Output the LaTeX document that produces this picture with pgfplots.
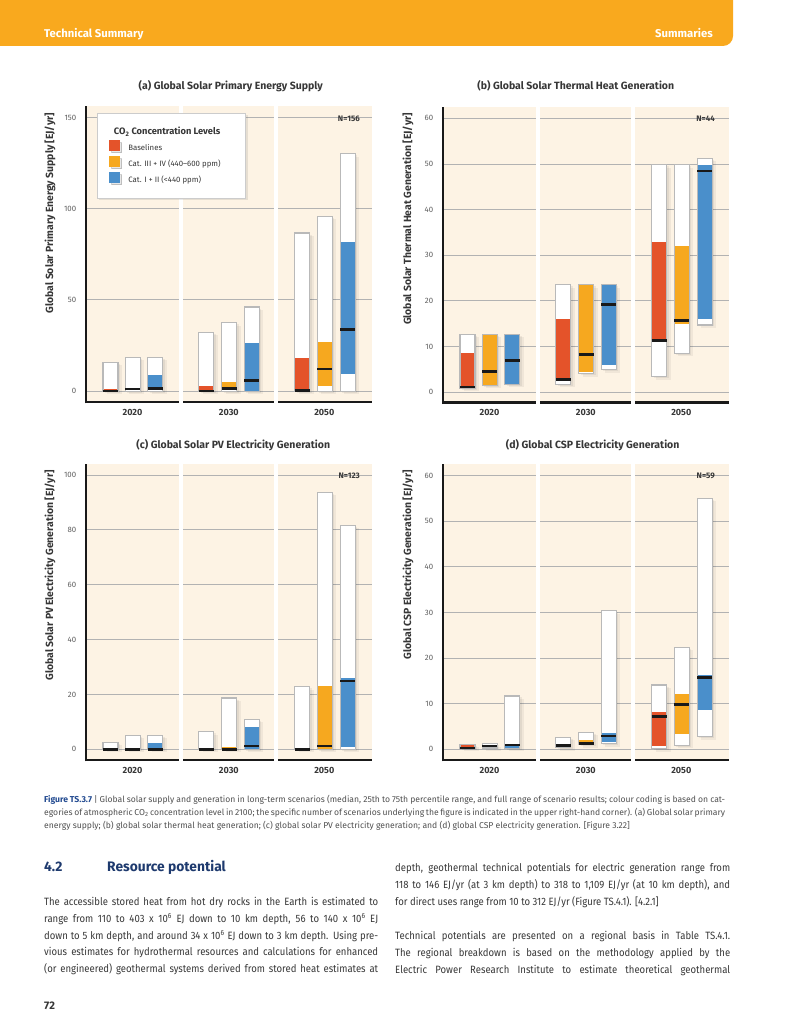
\documentclass[border=0pt]{standalone}
\usepackage{fontspec}
\setmainfont{Fira Sans}
\newfontfamily\bodyfont{Fira Sans}[FakeStretch=0.9]
\usepackage{pgfplots}
\pgfplotsset{compat=1.18}
\usetikzlibrary{shadows}
\tolerance=9999
\emergencystretch=2em
\hyphenpenalty=10000
\hbadness=10000

\definecolor{hdr}{RGB}{249,169,30}
\definecolor{cream}{RGB}{253,243,228}
\definecolor{cbase}{RGB}{228,83,42}
\definecolor{cmid}{RGB}{246,168,31}
\definecolor{clow}{RGB}{74,143,203}
\definecolor{gridc}{RGB}{178,178,178}
\definecolor{txt}{RGB}{55,55,55}
\definecolor{tickc}{RGB}{95,95,95}
\definecolor{capc}{RGB}{80,80,80}
\definecolor{navy}{RGB}{30,58,110}
\definecolor{figblue}{RGB}{35,75,145}

% one box: x, min, q25, median, q75, max, colour
\newcommand{\bx}[7]{%
  \pgfmathsetmacro\xl{#1-0.08}%
  \pgfmathsetmacro\xr{#1+0.08}%
  \edef\doit{%
    \noexpand\addplot[draw=none, fill=black, fill opacity=0.05, xshift=4pt, yshift=-3pt, forget plot]
      coordinates {(\xl,#2) (\xr,#2) (\xr,#6) (\xl,#6)} --cycle;
    \noexpand\addplot[draw=none, fill=black, fill opacity=0.06, xshift=2pt, yshift=-1.5pt, forget plot]
      coordinates {(\xl,#2) (\xr,#2) (\xr,#6) (\xl,#6)} --cycle;
    \noexpand\addplot[draw=none, fill=white, forget plot]
      coordinates {(\xl,#2) (\xr,#2) (\xr,#6) (\xl,#6)} --cycle;
    \noexpand\addplot[draw=none, fill=#7, forget plot]
      coordinates {(\xl,#3) (\xr,#3) (\xr,#5) (\xl,#5)} --cycle;
    \noexpand\addplot[draw=gray!55, line width=1.1pt, fill=none, forget plot]
      coordinates {(\xl,#2) (\xr,#2) (\xr,#6) (\xl,#6)} --cycle;
    \noexpand\addplot[black!90, line width=2.6pt, forget plot]
      coordinates {(\xl,#4) (\xr,#4)};
  }\doit}

% axis frame pieces: black base and left lines, white gaps between years
\newcommand{\panelframe}{%
  \draw[black!90, line width=2.6pt] (rel axis cs:0,0) -- (rel axis cs:1,0);
  \draw[black!90, line width=2.2pt] ([yshift=-1.3pt]rel axis cs:0,0) -- (rel axis cs:0,1);
  \fill[white] ([yshift=-3pt]rel axis cs:0.3265,0) rectangle (rel axis cs:0.3386,1);
  \fill[white] ([yshift=-3pt]rel axis cs:0.6582,0) rectangle (rel axis cs:0.6719,1);
}

\pgfplotsset{panel/.style={
  scale only axis, width=286.3pt, height=296pt,
  xmin=0, xmax=3.06, clip=false,
  axis line style={draw=none}, tick style={draw=none},
  ymajorgrids, grid style={gridc, line width=0.9pt},
  axis background/.style={fill=cream},
  xtick={0.5,1.53,2.55}, xticklabels={2020,2030,2050},
  xticklabel style={font=\fontsize{9}{10}\selectfont\bfseries, text=txt},
  yticklabel style={font=\fontsize{7.8}{9}\selectfont, text=tickc},
  /pgf/number format/assume math mode=true,
  yticklabel shift=6pt, xticklabel shift=3.5pt,
}}

\begin{document}
\begin{tikzpicture}
\path[use as bounding box] (0,0) rectangle (800pt,-1035pt);
\fill[white] (0,0) rectangle (800pt,-1035pt);

% header band
\fill[hdr] (0,0) -- (733pt,0) -- (733pt,-36pt) arc[start angle=0, end angle=-90, radius=10pt] -- (0,-46pt) -- cycle;
\node[anchor=base west, inner sep=0, text=white, font=\fontsize{11.3}{13}\selectfont\bfseries] at (44pt,-38pt) {Technical Summary};
\node[anchor=base east, inner sep=0, text=white, font=\fontsize{11.3}{13}\selectfont\bfseries] at (713pt,-38pt) {Summaries};

% panel titles
\begin{scope}[every node/.style={anchor=base, inner sep=0, text=txt, font=\fontsize{10.5}{12}\selectfont\bfseries}]
\node at (230.8pt,-89.5pt) {(a) Global Solar Primary Energy Supply};
\node at (575.8pt,-89.5pt) {(b) Global Solar Thermal Heat Generation};
\node at (233.3pt,-448.5pt) {(c) Global Solar PV Electricity Generation};
\node at (592.7pt,-448.5pt) {(d) Global CSP Electricity Generation};
\end{scope}

% y labels
\begin{scope}[every node/.style={rotate=90, anchor=east, inner sep=0, text=txt, font=\fontsize{10.4}{12}\selectfont\bfseries}]
\node at (50pt,-112.7pt) {Global Solar Primary Energy Supply [EJ/yr]};
\node at (408pt,-112.7pt) {Global Solar Thermal Heat Generation [EJ/yr]};
\node at (50pt,-470pt) {Global Solar PV Electricity Generation [EJ/yr]};
\node at (408pt,-470pt) {Global CSP Electricity Generation [EJ/yr]};
\end{scope}

% (a)
\begin{axis}[panel, at={(85.7pt,-402pt)}, anchor=south west,
  ymin=-6, ymax=156.4, ytick={0,50,100,150},
  legend style={at={(rel axis cs:0.0385,0.977)}, anchor=north west,
    draw=gray!40, line width=0.8pt, fill=white, text=txt,
    drop shadow={opacity=0.18, shadow xshift=2pt, shadow yshift=-2pt},
    font=\fontsize{7.8}{9}\selectfont, inner xsep=12pt, inner ysep=12.5pt,
    row sep=2.7pt, legend cell align=left,
    nodes={inner sep=1.5pt},
    /tikz/every odd column/.append style={column sep=7pt}}]
\bx{0.265}{0}{0}{0}{1.1}{15.7}{cbase}
\bx{0.505}{0}{0.4}{1.1}{1.3}{18.5}{cmid}
\bx{0.745}{0}{0.5}{1.5}{8.8}{18.5}{clow}
\bx{1.29}{0}{0}{0}{2.7}{32.2}{cbase}
\bx{1.533}{0}{0.4}{1.5}{4.9}{37.5}{cmid}
\bx{1.774}{0}{0}{5.9}{26.3}{46.1}{clow}
\bx{2.313}{0}{0}{0.4}{18.1}{86.7}{cbase}
\bx{2.557}{0}{2.9}{12.1}{26.9}{96.0}{cmid}
\bx{2.80}{0}{9.3}{33.8}{81.8}{130.2}{clow}
\addlegendimage{empty legend}
\addlegendentry{\hspace*{-14.5pt}\fontsize{9.3}{11}\selectfont\bfseries CO\textsubscript{2} Concentration Levels\rule[-15pt]{0pt}{15pt}\hspace*{12pt}}
\addlegendimage{legend image code/.code={\fill[cbase] (0pt,-2.6pt) rectangle (10pt,7.4pt);}}
\addlegendentry{Baselines}
\addlegendimage{legend image code/.code={\fill[cmid] (0pt,-2.6pt) rectangle (10pt,7.4pt);}}
\addlegendentry{Cat. III + IV (440--600 ppm)}
\addlegendimage{legend image code/.code={\fill[clow] (0pt,-2.6pt) rectangle (10pt,7.4pt);}}
\addlegendentry{Cat. I + II (<440 ppm)}
\panelframe
\end{axis}

% (b)
\begin{axis}[panel, at={(442.7pt,-402.7pt)}, anchor=south west,
  ymin=-2.34, ymax=62.56, ytick={0,10,20,30,40,50,60}]
\bx{0.265}{0.8}{1.1}{1.1}{8.5}{12.7}{cbase}
\bx{0.505}{1.5}{1.5}{4.5}{12.7}{12.7}{cmid}
\bx{0.745}{1.7}{1.7}{6.9}{12.7}{12.7}{clow}
\bx{1.29}{1.7}{2.6}{2.8}{16.0}{23.5}{cbase}
\bx{1.533}{4.0}{4.4}{8.2}{23.5}{23.5}{cmid}
\bx{1.774}{4.9}{5.9}{19.2}{23.5}{23.5}{clow}
\bx{2.313}{3.4}{10.9}{11.3}{32.8}{49.8}{cbase}
\bx{2.557}{8.5}{14.9}{15.7}{32.1}{49.8}{cmid}
\bx{2.80}{14.7}{16.1}{48.5}{49.8}{51.3}{clow}
\panelframe
\end{axis}

% (c)
\begin{axis}[panel, at={(85.7pt,-760pt)}, anchor=south west,
  ymin=-3.9, ymax=104.0, ytick={0,20,40,60,80,100}]
\bx{0.265}{0}{0}{0}{0.2}{2.6}{cbase}
\bx{0.505}{0}{0}{0}{0.2}{5.1}{cmid}
\bx{0.745}{0}{0}{0}{2.3}{5.1}{clow}
\bx{1.29}{0}{0}{0}{0.2}{6.4}{cbase}
\bx{1.533}{0}{0}{0}{0.85}{18.7}{cmid}
\bx{1.774}{0}{0}{1.2}{8.1}{10.9}{clow}
\bx{2.313}{0}{0}{0}{0.2}{22.8}{cbase}
\bx{2.557}{0}{0}{1.2}{23.1}{93.7}{cmid}
\bx{2.80}{0}{1.0}{24.9}{25.9}{81.7}{clow}
\panelframe
\end{axis}

% (d)
\begin{axis}[panel, at={(442.7pt,-760pt)}, anchor=south west,
  ymin=-2.34, ymax=62.56, ytick={0,10,20,30,40,50,60}]
\bx{0.265}{0.2}{0.4}{0.3}{0.9}{1.1}{cbase}
\bx{0.505}{0.3}{0.5}{0.7}{0.9}{1.2}{cmid}
\bx{0.745}{0.2}{0.2}{0.95}{0.7}{11.7}{clow}
\bx{1.29}{0.4}{0.6}{0.9}{1.0}{2.6}{cbase}
\bx{1.533}{1.0}{1.0}{1.3}{2.0}{3.7}{cmid}
\bx{1.774}{1.2}{1.5}{2.9}{3.6}{30.4}{clow}
\bx{2.313}{0.1}{0.7}{7.2}{8.2}{14.1}{cbase}
\bx{2.557}{0.9}{3.4}{9.8}{12.1}{22.4}{cmid}
\bx{2.80}{2.8}{8.6}{15.7}{16.4}{55.0}{clow}
\panelframe
\end{axis}

% scenario counts
\begin{scope}[every node/.style={anchor=east, inner sep=0, text=txt, font=\fontsize{8}{9}\selectfont\bfseries}]
\node at (360pt,-119pt) {N=156};
\node at (715pt,-119pt) {N=44};
\node at (360pt,-476pt) {N=123};
\node at (715pt,-476pt) {N=59};
\end{scope}

% caption
\node[anchor=base west, inner sep=0, text width=681pt, align=justify, text=capc,
  font=\fontsize{8.6}{12.85}\selectfont] at (44pt,-802.5pt)
  {\textcolor{figblue}{\bfseries Figure TS.3.7} | Global solar supply and generation in long-term scenarios (median, 25th to 75th percentile range, and full range of scenario results; colour coding is based on cat-\linebreak
  egories of atmospheric CO\textsubscript{2} concentration level in 2100; the specific number of scenarios underlying the figure is indicated in the upper right-hand corner). (a) Global solar primary\linebreak
  energy supply; (b) global solar thermal heat generation; (c) global solar PV electricity generation; and (d) global CSP electricity generation. [Figure 3.22]};

% section heading
\node[anchor=base west, inner sep=0, text=navy, font=\fontsize{13.8}{16}\selectfont\bfseries] at (44pt,-871.5pt) {4.2};
\node[anchor=base west, inner sep=0, text=navy, font=\fontsize{13.8}{16}\selectfont\bfseries] at (107pt,-871.5pt) {Resource potential};

% body text
\begin{scope}[every node/.style={anchor=base west, inner sep=0, align=justify, text=txt, font=\bodyfont\fontsize{10.6}{16.75}\selectfont}]
\node[text width=334pt] at (44pt,-905.5pt)
  {The accessible stored heat from hot dry rocks in the Earth is estimated to\linebreak
  range from 110 to 403 x 10\textsuperscript{6} EJ down to 10 km depth, 56 to 140 x 10\textsuperscript{6} EJ\linebreak
  down to 5 km depth, and around 34 x 10\textsuperscript{6} EJ down to 3 km depth. Using pre-\linebreak
  vious estimates for hydrothermal resources and calculations for enhanced\linebreak
  (or engineered) geothermal systems derived from stored heat estimates at\linebreak};
\node[text width=335pt] at (395pt,-871.5pt)
  {depth, geothermal technical potentials for electric generation range from\linebreak
  118 to 146 EJ/yr (at 3 km depth) to 318 to 1,109 EJ/yr (at 10 km depth), and\linebreak
  for direct uses range from 10 to 312 EJ/yr (Figure TS.4.1). [4.2.1]};
\node[text width=335pt] at (395pt,-939.8pt)
  {Technical potentials are presented on a regional basis in Table TS.4.1.\linebreak
  The regional breakdown is based on the methodology applied by the\linebreak
  Electric Power Research Institute to estimate theoretical geothermal\linebreak};
\end{scope}

\node[anchor=base west, inner sep=0, text=txt, font=\fontsize{11}{13}\selectfont\bfseries] at (44pt,-1009pt) {72};
\end{tikzpicture}
\end{document}
